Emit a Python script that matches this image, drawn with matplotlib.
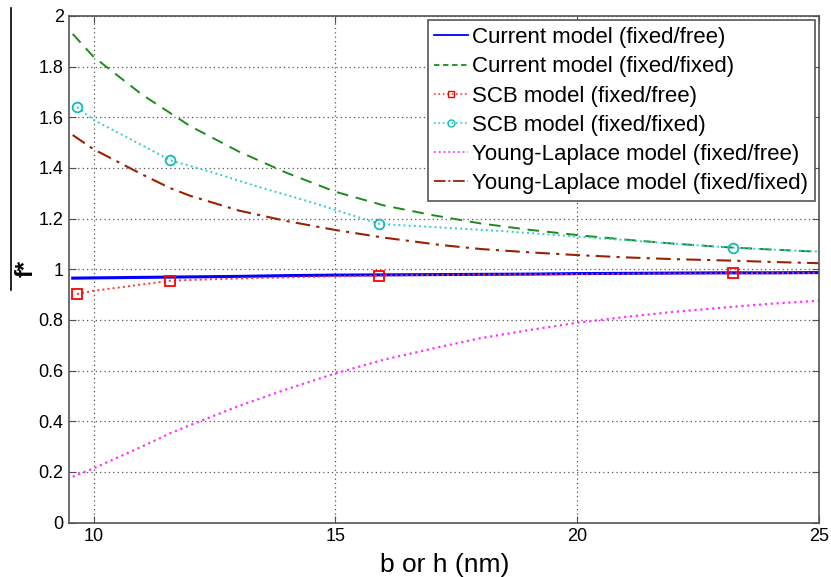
import matplotlib
matplotlib.use("Agg")
import matplotlib.pyplot as plt
from matplotlib.lines import Line2D

plt.rcParams['font.family'] = ['Liberation Sans', 'DejaVu Sans']

# --- data ---
x_cur = [9.57, 10, 11, 12, 13, 14, 15, 16, 17, 18, 19, 20, 21, 22, 23, 24, 25]
cur_free = [0.965, 0.966, 0.968, 0.970, 0.972, 0.975, 0.977, 0.978, 0.979, 0.980, 0.981, 0.983, 0.984, 0.985, 0.986, 0.986, 0.987]
cur_fixed = [1.929, 1.839, 1.690, 1.565, 1.465, 1.380, 1.306, 1.252, 1.214, 1.181, 1.156, 1.135, 1.117, 1.101, 1.088, 1.078, 1.069]

x_yl = [9.57, 10, 11, 11.59, 12, 13, 14, 15, 16, 17.17, 18, 19, 20, 21, 22, 23.22, 24, 25]
yl_free = [0.181, 0.214, 0.300, 0.353, 0.385, 0.460, 0.527, 0.589, 0.643, 0.694, 0.728, 0.760, 0.789, 0.812, 0.832, 0.852, 0.864, 0.876]
yl_fixed = [1.530, 1.474, 1.375, 1.320, 1.290, 1.232, 1.190, 1.155, 1.125, 1.096, 1.080, 1.067, 1.056, 1.047, 1.040, 1.034, 1.029, 1.024]

x_scb_line = [9.66, 10, 11, 11.59, 12.5, 13.5, 14.5, 15, 15.91, 17.17, 18.5, 20, 21.5, 23.22, 24, 25]
scb_free_line = [0.902, 0.915, 0.940, 0.955, 0.961, 0.966, 0.970, 0.972, 0.975, 0.978, 0.980, 0.981, 0.983, 0.984, 0.985, 0.985]
scb_fixed_line = [1.640, 1.590, 1.490, 1.430, 1.380, 1.320, 1.265, 1.234, 1.179, 1.165, 1.150, 1.129, 1.108, 1.085, 1.078, 1.070]

x_scb = [9.66, 11.59, 15.91, 23.22]
scb_free = [0.902, 0.955, 0.975, 0.984]
scb_fixed = [1.640, 1.430, 1.179, 1.085]

xticks = [10, 15, 20, 25]
yticks = [0, 0.2, 0.4, 0.6, 0.8, 1, 1.2, 1.4, 1.6, 1.8, 2]
ytick_labels = ['0', '0.2', '0.4', '0.6', '0.8', '1', '1.2', '1.4', '1.6', '1.8', '2']

fig = plt.figure(figsize=(8.31, 5.77), dpi=100)
ax = fig.add_axes([0.0834, 0.0943, 0.9026, 0.878])

ax.plot(x_cur, cur_free, '-', color='#0000ff', lw=2.2, label='Current model (fixed/free)')
ax.plot(x_cur, cur_fixed, '--', color='#1a8c1a', lw=1.4, dashes=(6, 4), label='Current model (fixed/fixed)')
ax.plot(x_scb_line, scb_free_line, ':', color='#ff3333', lw=1.4)
ax.plot(x_scb, scb_free, 's', color='#ff0000', mfc='none', ms=6.5, mew=1.3)
ax.plot(x_scb_line, scb_fixed_line, ':', color='#33cccc', lw=1.4)
ax.plot(x_scb, scb_fixed, 'o', color='#11bbbb', mfc='none', ms=7, mew=1.3)
ax.plot(x_yl, yl_free, ':', color='#ff33ff', lw=1.6, label='Young-Laplace model (fixed/free)')
ax.plot(x_yl, yl_fixed, '-.', color='#992200', lw=1.5, dashes=(7, 3, 1.5, 3), label='Young-Laplace model (fixed/fixed)')

ax.set_xlim(9.5, 25)
ax.set_ylim(0, 2)
ax.set_xticks(xticks)
ax.set_yticks(yticks)
ax.set_yticklabels(ytick_labels)
ax.tick_params(direction='in', top=True, right=True, labelsize=13, length=5, color='#505050', pad=4)
ax.grid(True, linestyle=(0, (1, 2.5)), color='#555555', lw=0.9)
for s in ax.spines.values():
    s.set_color('#555555')
    s.set_linewidth(1.2)

ax.set_xlabel('b or h (nm)', fontsize=19, labelpad=6)
fig.text(0.031, 0.534, 'f*', rotation=90, fontsize=17, fontweight='bold', ha='center', va='center')
fig.add_artist(Line2D([0.0135, 0.0135], [1 - 8 / 577, 1 - 290 / 577], color='black', lw=1.2))

handles = [
    Line2D([], [], color='#0000ff', lw=1.3, ls='-'),
    Line2D([], [], color='#1a8c1a', lw=1.3, ls='--', dashes=(3, 2)),
    Line2D([], [], color='#ff3333', lw=1.2, ls=':', marker='s', mfc='none', mec='#ff0000', ms=5),
    Line2D([], [], color='#33cccc', lw=1.2, ls=':', marker='o', mfc='none', mec='#11bbbb', ms=5),
    Line2D([], [], color='#ff33ff', lw=1.3, ls=':'),
    Line2D([], [], color='#992200', lw=1.3, ls='-.'),
]
labels = ['Current model (fixed/free)', 'Current model (fixed/fixed)', 'SCB model (fixed/free)',
          'SCB model (fixed/fixed)', 'Young-Laplace model (fixed/free)', 'Young-Laplace model (fixed/fixed)']
leg = ax.legend(handles, labels, loc='upper right', fontsize=16, handlelength=1.5, handletextpad=0.2,
                labelspacing=0.37, borderaxespad=0.2, borderpad=0.3, fancybox=False, framealpha=1,
                edgecolor='#555555')
leg.get_frame().set_linewidth(1.2)

fig.savefig('out.png', dpi=100)
